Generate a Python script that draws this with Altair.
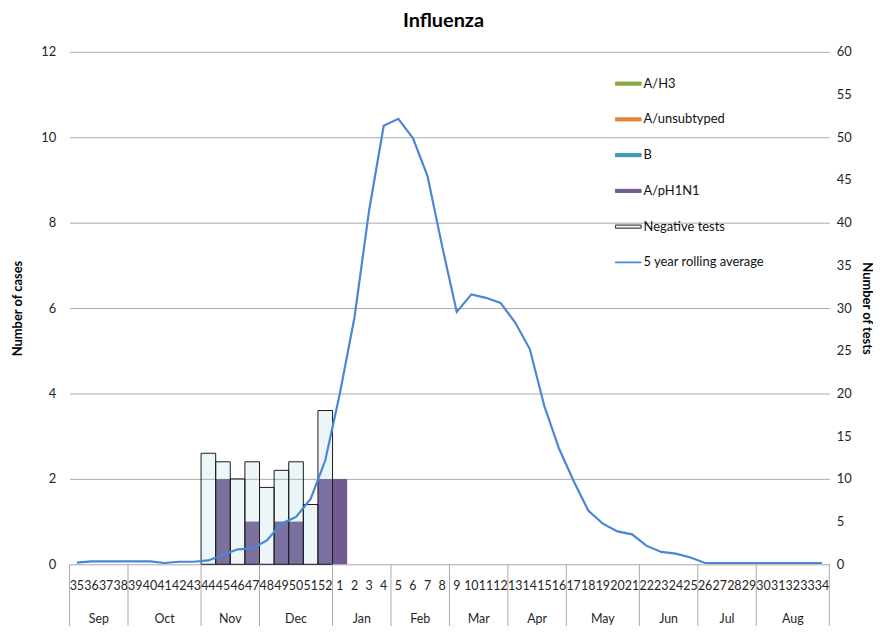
import altair as alt
import pandas as pd

# ---------------- data ----------------
weeks = list(range(35, 53)) + list(range(1, 35))
months = ["Sep", "Oct", "Nov", "Dec", "Jan", "Feb", "Mar", "Apr", "May", "Jun", "Jul", "Aug"]
month_weeks = [4, 5, 4, 5, 4, 4, 4, 4, 5, 4, 4, 5]

# negative tests (secondary axis, number of tests), by week (35..52, 1..34)
negative_tests = [0, 0, 0, 0, 0, 0, 0, 0, 0, 13, 12, 10, 12, 9, 11, 12, 7, 18] + [0] * 34
# A/pH1N1 cases (primary axis)
ph1n1 = [0, 0, 0, 0, 0, 0, 0, 0, 0, 0, 2, 0, 1, 0, 1, 1, 0, 2] + [2] + [0] * 33
# 5 year rolling average (primary axis units)
rolling_avg = [0.04, 0.07, 0.07, 0.07, 0.07, 0.07, 0.03, 0.06, 0.06, 0.09, 0.22, 0.35,
               0.37, 0.56, 0.95, 1.11, 1.53, 2.43,
               4.00, 5.78, 8.28, 10.27, 10.43, 9.98, 9.09, 7.45, 5.91, 6.32, 6.24, 6.12,
               5.66, 5.04, 3.70, 2.71, 1.95, 1.26, 0.95, 0.77, 0.70, 0.43, 0.29, 0.25,
               0.16, 0.03, 0.03, 0.03, 0.03, 0.03, 0.03, 0.03, 0.03, 0.03]

legend_labels = ["A/H3", "A/unsubtyped", "B", "A/pH1N1", "Negative tests", "5 year rolling average"]
legend_fill = ["#8aa64a", "#e0843e", "#3a9ab0", "#725a91", "#ecf5f8", "#4a86d6"]
legend_stroke = ["#8aa64a", "#e0843e", "#3a9ab0", "#725a91", "#1a1a1a", "#4a86d6"]
RECT = "M-1,-0.12L1,-0.12L1,0.12L-1,0.12Z"
LINE = "M-1,-0.03L1,-0.03L1,0.03L-1,0.03Z"
legend_shapes = [RECT, RECT, RECT, RECT, RECT, LINE]

# ---------------- tables ----------------
n = len(weeks)
df = pd.DataFrame({
    "i": list(range(n)),
    "i1": [k + 1 for k in range(n)],
    "c": [k + 0.5 for k in range(n)],
    "zero": [0] * n,
    "week": [str(w) for w in weeks],
    "neg": negative_tests,
    "h1": ph1n1,
    "avg": rolling_avg,
})
bounds = [0]
for m in month_weeks:
    bounds.append(bounds[-1] + m)
mdf = pd.DataFrame({
    "month": months,
    "mid": [(a + b) / 2 for a, b in zip(bounds[:-1], bounds[1:])],
})
bdf = pd.DataFrame({"b": bounds})
ldf = pd.DataFrame({"series": legend_labels})

W, H = 765, 516
FONT = "Lato"
GRID = "#a9a9a9"
TXT = "#262626"

xscale = alt.Scale(domain=[0, n], nice=False, zero=False)
base = alt.Chart(df)

purple = base.transform_filter("datum.h1 > 0").mark_bar(color="#725a91").encode(
    x=alt.X("i:Q", scale=xscale,
            axis=alt.Axis(values=list(range(n + 1)), labels=False, tickSize=37,
                          tickColor=GRID, domainColor=GRID, grid=False, title=None)),
    x2="i1:Q",
    y=alt.Y("h1:Q", scale=alt.Scale(domain=[0, 12], nice=False),
            axis=alt.Axis(values=list(range(0, 13, 2)), grid=True, gridColor=GRID,
                          domain=False, ticks=False, labelPadding=14, labelFontSize=13,
                          labelFont=FONT, labelColor=TXT, title="Number of cases",
                          titleFont=FONT, titleFontSize=13, titleFontWeight="bold",
                          titleColor="#000", titlePadding=16)),
    y2="zero:Q",
)

neg = base.transform_filter("datum.neg > 0").mark_bar(
    fill="#a0cddc", fillOpacity=0.2, stroke="#1a1a1a", strokeWidth=1
).encode(
    x=alt.X("i:Q", scale=xscale, axis=None),
    x2="i1:Q",
    y=alt.Y("neg:Q", scale=alt.Scale(domain=[0, 60], nice=False),
            axis=alt.Axis(orient="right", values=list(range(0, 61, 5)), grid=False,
                          domain=False, ticks=False, labelPadding=7, labelFontSize=13,
                          labelFont=FONT, labelColor=TXT, title="Number of tests",
                          titleFont=FONT, titleFontSize=13, titleFontWeight="bold",
                          titleColor="#000", titlePadding=8)),
    y2="zero:Q",
)

line = base.mark_line(color="#4a86d6", strokeWidth=2.2).encode(
    x=alt.X("c:Q", scale=xscale, axis=None),
    y=alt.Y("avg:Q", scale=alt.Scale(domain=[0, 12], nice=False), axis=None),
)

week_text = base.mark_text(font=FONT, fontSize=12.5, color=TXT, baseline="middle").encode(
    x=alt.X("c:Q", scale=xscale, axis=None),
    y=alt.value(H + 22),
    text="week:N",
)

month_rules = alt.Chart(bdf).mark_rule(color=GRID, strokeWidth=1).encode(
    x=alt.X("b:Q", scale=xscale, axis=None),
    y=alt.value(H),
    y2=alt.value(H + 90),
)

month_text = alt.Chart(mdf).mark_text(font=FONT, fontSize=12.5, color=TXT, baseline="middle").encode(
    x=alt.X("mid:Q", scale=xscale, axis=None),
    y=alt.value(H + 55),
    text="month:N",
)

leg = dict(title=None, orient="none", legendX=549, legendY=14)
legend_layer = alt.Chart(ldf).transform_filter('datum.series == "__none__"').mark_point(
    filled=True, opacity=1
).encode(
    fill=alt.Fill("series:N", scale=alt.Scale(domain=legend_labels, range=legend_fill),
                  legend=alt.Legend(symbolSize=676, symbolStrokeWidth=1, symbolOpacity=1,
                                    labelFont=FONT, labelFontSize=13, labelColor="#111",
                                    labelOffset=2, clipHeight=36, rowPadding=0, padding=0,
                                    direction="vertical", **leg)),
    stroke=alt.Stroke("series:N", scale=alt.Scale(domain=legend_labels, range=legend_stroke),
                      legend=alt.Legend(**leg)),
    shape=alt.Shape("series:N", scale=alt.Scale(domain=legend_labels, range=legend_shapes),
                    legend=alt.Legend(**leg)),
)

chart = alt.layer(
    purple, neg, line, month_rules, week_text, month_text, legend_layer
).resolve_scale(
    y="independent"
).properties(
    width=W, height=H,
    title=alt.TitleParams("Influenza", font=FONT, fontSize=20, fontWeight="bold",
                          color="#000", anchor="middle", dx=-6, offset=15),
    autosize=alt.AutoSizeParams(type="none"),
    padding={"left": 62, "top": 42, "right": 44, "bottom": 60},
).configure_view(stroke=None)

chart.save("out.html", embed_options={"renderer": "svg", "actions": False})
